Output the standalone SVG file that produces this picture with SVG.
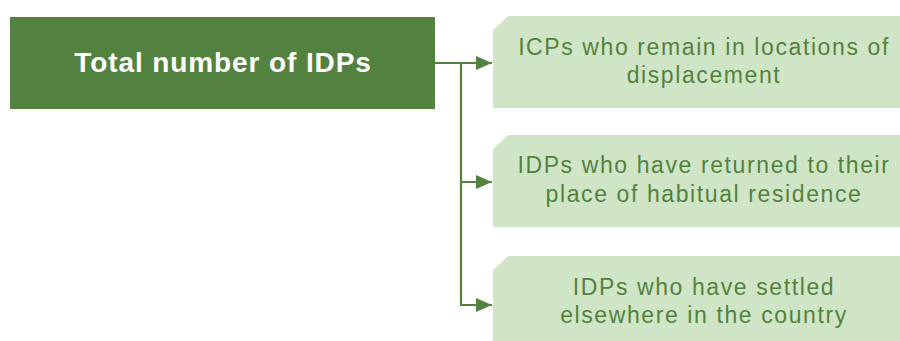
<svg xmlns="http://www.w3.org/2000/svg" width="900" height="341" viewBox="0 0 900 341">
<defs>
<style>
.main{fill:#538240}
.sub{fill:#d0e5c5}
.t1{font-family:"Liberation Sans",Arial,sans-serif;font-weight:bold;font-size:28px;fill:#ffffff;letter-spacing:0.9px;text-anchor:middle}
.t2{font-family:"Liberation Sans",Arial,sans-serif;font-size:23px;fill:#538240;letter-spacing:1.6px;text-anchor:middle}
.ln{stroke:#538240;stroke-width:2.2;fill:none}
</style>
<marker id="ah" viewBox="0 0 16 14" refX="16" refY="7" markerWidth="16" markerHeight="14" markerUnits="userSpaceOnUse" orient="auto">
<path d="M0,0 L16,7 L0,14 Z" fill="#538240"/>
</marker>
</defs>
<g id="total">
<rect class="main" x="10" y="17" width="425" height="92"/>
<text class="t1" x="223" y="72">Total number of IDPs</text>
</g>
<g id="remain">
<path class="sub" d="M508,16 L900,16 L900,108 L493,108 L493,30 Z"/>
<text class="t2" x="704" y="55">ICPs who remain in locations of</text>
<text class="t2" x="704" y="83">displacement</text>
</g>
<g id="returned">
<path class="sub" d="M508,135 L900,135 L900,227 L493,227 L493,149 Z"/>
<text class="t2" x="704" y="173">IDPs who have returned to their</text>
<text class="t2" x="704" y="202">place of habitual residence</text>
</g>
<g id="settled">
<path class="sub" d="M508,256 L900,256 L900,341 L493,341 L493,270 Z"/>
<text class="t2" x="704" y="295">IDPs who have settled</text>
<text class="t2" x="704" y="323">elsewhere in the country</text>
</g>
<g id="connectors">
<line class="ln" x1="435" y1="63" x2="492" y2="63" marker-end="url(#ah)"/>
<polyline class="ln" points="461,63 461,182 492,182" marker-end="url(#ah)"/>
<polyline class="ln" points="461,182 461,305 492,305" marker-end="url(#ah)"/>
</g>
</svg>
